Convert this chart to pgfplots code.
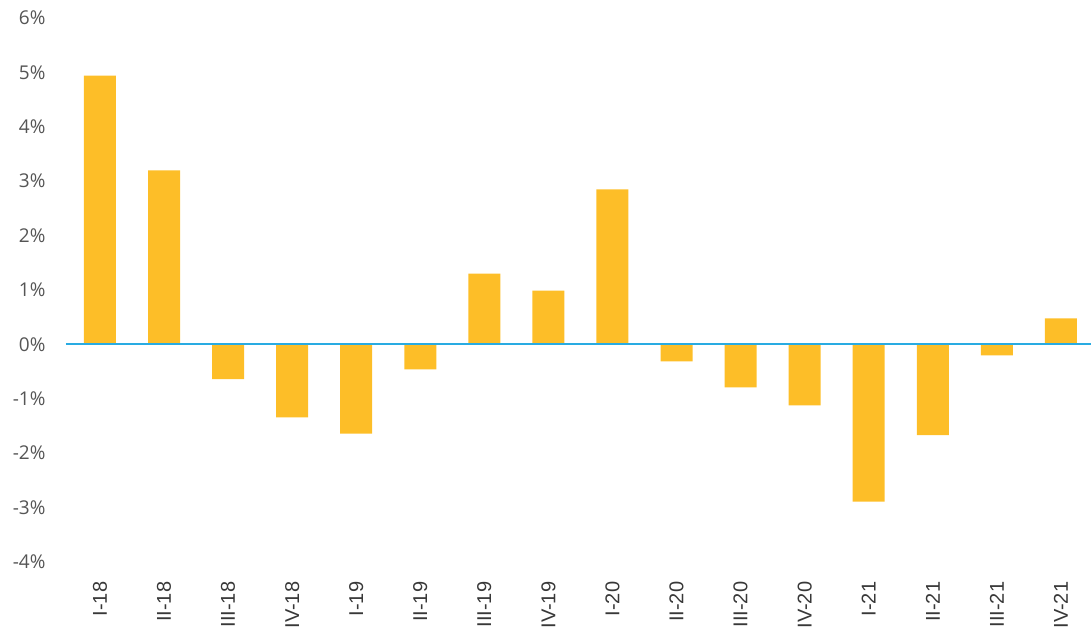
\documentclass[border=0pt]{standalone}
\usepackage{fontspec}
\setmainfont{Open Sans}
\newfontfamily\xlblfont{Liberation Sans}
\usepackage{pgfplots}
\pgfplotsset{compat=1.18}
\definecolor{barcol}{RGB}{253,190,40}
\definecolor{zerocol}{RGB}{41,171,226}
\definecolor{lblcol}{RGB}{85,85,85}
\begin{document}
\begin{tikzpicture}
\useasboundingbox (-66pt,-73pt) rectangle (1025pt,562pt);
\begin{axis}[
    at={(0,0)}, anchor=south west,
    scale only axis,
    width=1025pt, height=544pt,
    xmin=-0.53, xmax=15.47,
    ymin=-4, ymax=6,
    ytick={-4,-3,...,6},
    yticklabel={\pgfmathprintnumber{\tick}\%},
    xtick={0,...,15},
    xticklabels={I-18,II-18,III-18,IV-18,I-19,II-19,III-19,IV-19,I-20,II-20,III-20,IV-20,I-21,II-21,III-21,IV-21},
    axis line style={draw=none},
    tick style={draw=none},
    /pgf/number format/assume math mode=true,
    yticklabel style={font=\fontsize{19}{22}\selectfont, text=lblcol, anchor=east, xshift=-17pt},
    xticklabel style={font=\xlblfont\fontsize{20}{22}\selectfont, text=black!78, rotate=90, anchor=east, xshift=-12pt},
    ybar, bar width=32pt,
]
\addplot[fill=barcol, draw=none] coordinates {
 (0,4.94) (1,3.20) (2,-0.64) (3,-1.34) (4,-1.64) (5,-0.46) (6,1.30) (7,0.99)
 (8,2.85) (9,-0.31) (10,-0.79) (11,-1.12) (12,-2.89) (13,-1.67) (14,-0.20) (15,0.48)
};
\draw[zerocol, line width=2pt] (axis cs:-0.53,0) -- (axis cs:15.47,0);
\end{axis}
\end{tikzpicture}
\end{document}
